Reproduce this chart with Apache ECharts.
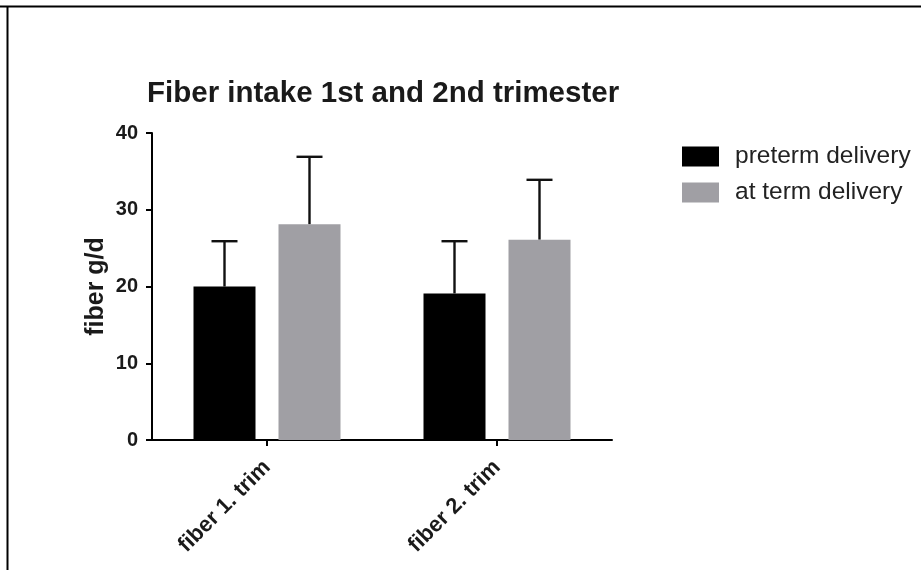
<!DOCTYPE html>
<html>
<head>
<meta charset="utf-8">
<script src="https://cdn.jsdelivr.net/npm/echarts@6/dist/echarts.min.js"></script>
<style>
  html, body { margin: 0; padding: 0; background: #fff; }
  #chart { width: 921px; height: 570px; }
</style>
</head>
<body>
<div id="chart"></div>
<script>
// ---- Data ----
const categories = ['fiber 1. trim', 'fiber 2. trim'];
const seriesNames = ['preterm delivery', 'at term delivery'];
const pretermMean = [20.0, 19.1];
const pretermUpper = [25.9, 25.9];
const termMean = [28.1, 26.1];
const termUpper = [36.9, 33.9];
const yTicks = [0, 10, 20, 30, 40];

// ---- Style ----
const FONT = 'Liberation Sans, Arial, sans-serif';
const BAR_W = 62;
const BAR_GAP = 23;
const colors = ['#000000', '#a09fa4'];

const chart = echarts.init(document.getElementById('chart'), null, { renderer: 'canvas' });

function errorSeries(means, uppers, sign) {
  return {
    type: 'custom',
    z: 1,
    silent: true,
    data: categories.map((c, i) => [i, means[i], uppers[i]]),
    renderItem: function (params, api) {
      const idx = api.value(0);
      const base = api.coord([idx, api.value(1)]);
      const top = api.coord([idx, api.value(2)]);
      const x = base[0] + sign * (BAR_W + BAR_GAP) / 2;
      const half = 13;
      const st = { stroke: '#111', lineWidth: 2.4 };
      return {
        type: 'group',
        children: [
          { type: 'line', shape: { x1: x, y1: base[1], x2: x, y2: top[1] }, style: st },
          { type: 'line', shape: { x1: x - half, y1: top[1], x2: x + half, y2: top[1] }, style: st }
        ]
      };
    }
  };
}

chart.setOption({
  animation: false,
  backgroundColor: '#ffffff',
  textStyle: { fontFamily: FONT },
  title: {
    text: 'Fiber intake 1st and 2nd trimester',
    left: 142,
    top: 74,
    textStyle: { fontFamily: FONT, fontSize: 29.5, fontWeight: 'bold', color: '#1a1a1a' }
  },
  legend: {
    left: 677,
    top: 139,
    orient: 'vertical',
    icon: 'rect',
    itemWidth: 37,
    itemHeight: 20,
    itemGap: 11,
    data: seriesNames,
    textStyle: { fontFamily: FONT, fontSize: 24.5, color: '#222', padding: [0, 0, 0, 11] }
  },
  grid: { left: 152, right: 309, top: 133, bottom: 130, containLabel: false },
  xAxis: {
    type: 'category',
    data: categories,
    axisLine: { lineStyle: { color: '#000', width: 2 } },
    axisTick: { show: true, alignWithLabel: true, length: 6, lineStyle: { color: '#000', width: 2 } },
    axisLabel: {
      rotate: 45, margin: 24, interval: 0,
      fontFamily: FONT, fontSize: 22, fontWeight: 'bold', color: '#1a1a1a'
    }
  },
  yAxis: {
    type: 'value',
    min: yTicks[0],
    max: yTicks[yTicks.length - 1],
    interval: yTicks[1] - yTicks[0],
    name: 'fiber g/d',
    nameLocation: 'middle',
    nameGap: 43,
    nameTextStyle: { fontFamily: FONT, fontSize: 25, fontWeight: 'bold', color: '#1a1a1a' },
    splitLine: { show: false },
    axisLine: { show: true, lineStyle: { color: '#000', width: 2 } },
    axisTick: { show: true, length: 6, lineStyle: { color: '#000', width: 2 } },
    axisLabel: { margin: 14, fontFamily: FONT, fontSize: 20, fontWeight: 'bold', color: '#1a1a1a' }
  },
  series: [
    errorSeries(pretermMean, pretermUpper, -1),
    errorSeries(termMean, termUpper, 1),
    {
      name: seriesNames[0], type: 'bar', data: pretermMean, z: 2,
      barWidth: BAR_W, barGap: (BAR_GAP / BAR_W * 100) + '%',
      itemStyle: { color: colors[0] }
    },
    {
      name: seriesNames[1], type: 'bar', data: termMean, z: 2,
      barWidth: BAR_W, barGap: (BAR_GAP / BAR_W * 100) + '%',
      itemStyle: { color: colors[1] }
    }
  ],
  graphic: [
    { type: 'line', shape: { x1: 0, y1: 6.5, x2: 921, y2: 6.5 }, style: { stroke: '#000', lineWidth: 2 } },
    { type: 'line', shape: { x1: 7.5, y1: 6, x2: 7.5, y2: 570 }, style: { stroke: '#000', lineWidth: 2 } }
  ]
});
</script>
</body>
</html>
